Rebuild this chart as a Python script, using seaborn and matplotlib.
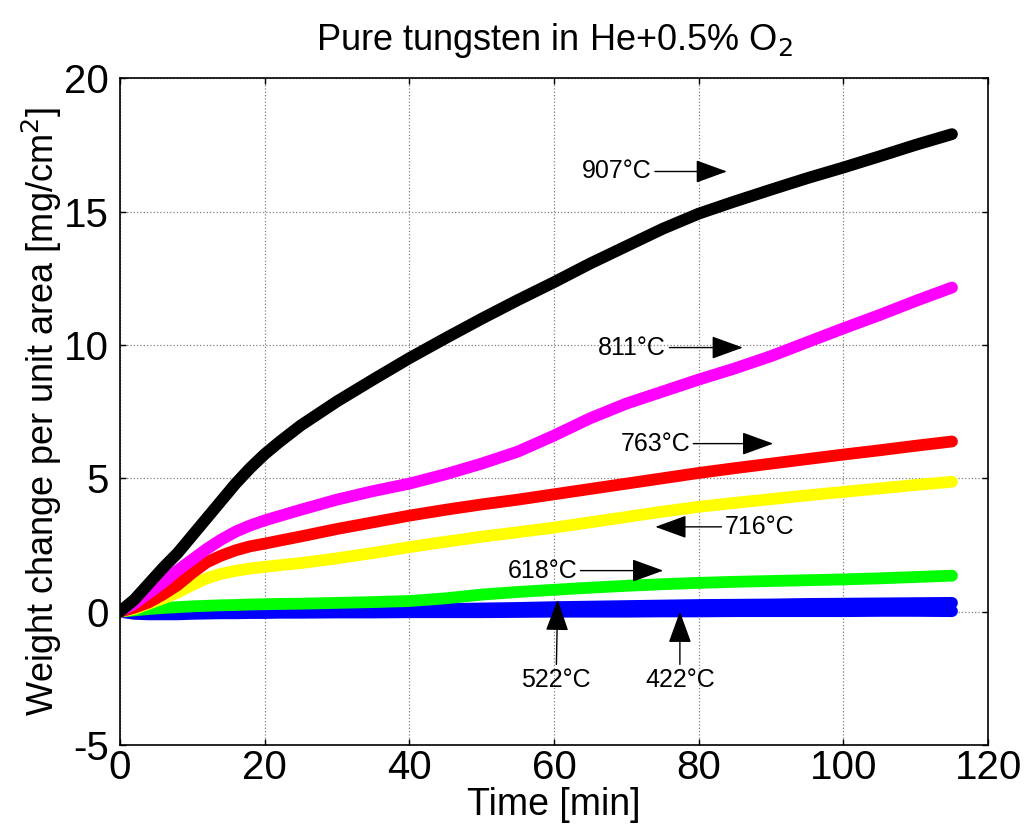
import numpy as np
import pandas as pd
import matplotlib
matplotlib.use('Agg')
import matplotlib.pyplot as plt
import seaborn as sns

# time axis shared by all runs [min]
time_min = [0, 2, 4, 6, 8, 10, 12, 14, 16, 18, 20, 22, 25, 30, 35, 40, 45, 50, 55, 60,
            65, 70, 75, 80, 85, 90, 95, 100, 105, 110, 115]

# weight change [mg/cm2]
w_422 = [0, -0.08, -0.1, -0.1, -0.1, -0.08, -0.07, -0.06, -0.06, -0.05, -0.05, -0.04, -0.04, -0.03, -0.03,
         -0.02, -0.02, -0.02, -0.01, 0.0, 0.0, 0.0, 0.01, 0.01, 0.02, 0.02, 0.02, 0.02, 0.03, 0.03, 0.02]
w_522 = [0, -0.03, -0.04, -0.04, -0.03, -0.02, 0.0, 0.0, 0.01, 0.01, 0.02, 0.03, 0.04, 0.05, 0.07,
         0.09, 0.1, 0.12, 0.14, 0.17, 0.19, 0.21, 0.23, 0.25, 0.26, 0.27, 0.29, 0.3, 0.31, 0.32, 0.33]
w_618 = [0, 0.05, 0.1, 0.14, 0.17, 0.2, 0.22, 0.24, 0.25, 0.27, 0.28, 0.29, 0.3, 0.33, 0.36,
         0.4, 0.5, 0.64, 0.74, 0.82, 0.9, 0.97, 1.03, 1.08, 1.12, 1.15, 1.18, 1.21, 1.25, 1.3, 1.35]
w_716 = [0, 0.1, 0.3, 0.5, 0.72, 1.0, 1.25, 1.42, 1.53, 1.62, 1.68, 1.74, 1.82, 2.0, 2.2,
         2.42, 2.62, 2.81, 2.98, 3.15, 3.35, 3.55, 3.75, 3.93, 4.08, 4.22, 4.36, 4.49, 4.62, 4.75, 4.87]
w_763 = [0, 0.15, 0.35, 0.65, 1.0, 1.45, 1.85, 2.1, 2.3, 2.45, 2.55, 2.66, 2.82, 3.1, 3.35,
         3.6, 3.82, 4.02, 4.2, 4.4, 4.6, 4.8, 5.0, 5.2, 5.38, 5.55, 5.72, 5.89, 6.05, 6.22, 6.38]
w_811 = [0, 0.3, 0.7, 1.1, 1.55, 1.95, 2.35, 2.7, 3.0, 3.23, 3.42, 3.58, 3.82, 4.2, 4.52,
         4.8, 5.15, 5.55, 6.0, 6.6, 7.25, 7.8, 8.25, 8.7, 9.12, 9.58, 10.1, 10.62, 11.12, 11.65, 12.15]
w_907 = [0, 0.45, 1.05, 1.65, 2.2, 2.85, 3.5, 4.15, 4.8, 5.38, 5.9, 6.35, 6.98, 7.88, 8.7,
         9.5, 10.25, 10.98, 11.68, 12.35, 13.05, 13.7, 14.35, 14.92, 15.38, 15.82, 16.25, 16.65, 17.07, 17.5, 17.9]

temps = ['422', '522', '618', '716', '763', '811', '907']
series = [w_422, w_522, w_618, w_716, w_763, w_811, w_907]
colors = ['#0000ff', '#0000ff', '#00ff00', '#ffff00', '#ff0000', '#ff00ff', '#000000']

# label text, arrow tip (x, y), text anchor (x, y)
labels = ['907°C', '811°C', '763°C', '716°C', '618°C', '522°C', '422°C']
tips = [(83.9, 16.5), (86.1, 9.9), (90.3, 6.3), (74.0, 3.18), (75.1, 1.54), (60.5, 0.45), (77.4, 0.0)]
anchors = [(73.5, 16.5), (75.5, 9.9), (78.8, 6.3), (83.6, 3.18), (63.2, 1.54), (60.3, -2.1), (77.4, -2.1)]

df = pd.concat([pd.DataFrame({'t': time_min, 'w': s, 'T': T}) for T, s in zip(temps, series)])

sns.set_theme(style='white')
plt.rcParams['font.family'] = ['Liberation Sans', 'DejaVu Sans']
plt.rcParams['axes.unicode_minus'] = False
plt.rcParams['text.color'] = 'black'
plt.rcParams['axes.labelcolor'] = 'black'
plt.rcParams['xtick.color'] = 'black'
plt.rcParams['ytick.color'] = 'black'

fig = plt.figure(figsize=(10.24, 8.4), dpi=100)
ax = fig.add_axes([0.117, 0.113, 0.848, 0.794])

sns.lineplot(data=df, x='t', y='w', hue='T', hue_order=temps, palette=colors,
             sort=False, linewidth=8.5, legend=False, ax=ax)
for ln in ax.lines:
    ln.set_solid_capstyle('round')
    ln.set_solid_joinstyle('round')

ax.set_xlim(0, 120)
ax.set_ylim(-5, 20)
ax.set_xticks(range(0, 121, 20))
ax.set_yticks(range(-5, 21, 5))
ax.grid(True, color='#808080', linestyle=':', linewidth=0.9)
ax.tick_params(direction='in', length=4, width=1, top=True, right=True, labelsize=29,
               bottom=True, left=True)
ax.tick_params(axis='x', pad=3)
ax.tick_params(axis='y', pad=8)
for sp in ax.spines.values():
    sp.set_color('black')
    sp.set_linewidth(1.2)

ax.set_xlabel('Time [min]', fontsize=27, labelpad=0)
ax.set_ylabel('Weight change per unit area [mg/cm$^2$]', fontsize=26, labelpad=0)
ax.set_title('Pure tungsten in He+0.5% O$_2$', fontsize=26, pad=20)

arrow = dict(arrowstyle='-|>,head_length=1.1,head_width=0.4', color='black', lw=1.0,
             shrinkA=0, shrinkB=0)
for lab, tip, anc in zip(labels, tips, anchors):
    if lab in ('522°C', '422°C'):
        ha, va = 'center', 'top'
    elif lab == '716°C':
        ha, va = 'left', 'center'
    else:
        ha, va = 'right', 'center'
    ax.annotate(lab, xy=tip, xytext=anc, ha=ha, va=va, fontsize=18,
                arrowprops=arrow)

plt.savefig('out.png', dpi=100)
